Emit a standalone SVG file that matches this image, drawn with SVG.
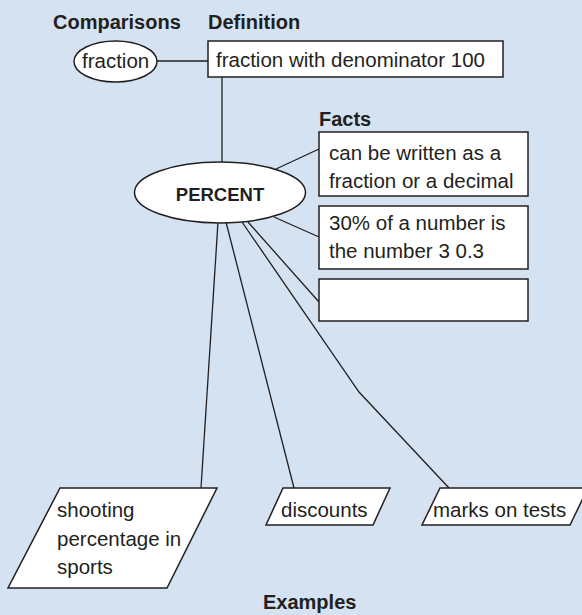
<svg xmlns="http://www.w3.org/2000/svg" width="582" height="615" viewBox="0 0 582 615">
  <style>
    .bg { fill: #d4e2f1; }
    .shape { fill: #ffffff; stroke: #231f20; stroke-width: 1.5; }
    .conn { fill: none; stroke: #231f20; stroke-width: 1.3; }
    .t { font-family: "Liberation Sans", Arial, sans-serif; font-size: 20.5px; fill: #231f20; }
    .h { font-family: "Liberation Sans", Arial, sans-serif; font-size: 20px; font-weight: bold; fill: #231f20; }
    .c { font-family: "Liberation Sans", Arial, sans-serif; font-size: 18.5px; font-weight: bold; fill: #231f20; }
  </style>
  <rect class="bg" x="0" y="0" width="582" height="615"/>

  <g id="headings">
    <text class="h" x="53" y="29">Comparisons</text>
    <text class="h" x="208" y="29">Definition</text>
    <text class="h" x="319" y="126">Facts</text>
    <text class="h" x="263" y="609">Examples</text>
  </g>

  <g id="connectors">
    <line class="conn" x1="157" y1="61" x2="208" y2="61"/>
    <line class="conn" x1="222" y1="77" x2="222" y2="162"/>
    <line class="conn" x1="276" y1="169" x2="319" y2="149"/>
    <line class="conn" x1="274" y1="217" x2="319" y2="237"/>
    <line class="conn" x1="248" y1="222" x2="319" y2="302"/>
    <line class="conn" x1="218" y1="222" x2="201" y2="488"/>
    <line class="conn" x1="226" y1="222" x2="294" y2="488"/>
    <polyline class="conn" points="242,222 359,392 449,488"/>
  </g>

  <g id="node-fraction">
    <ellipse class="shape" cx="115.5" cy="61.5" rx="41.5" ry="20.5"/>
    <text class="t" x="82" y="68">fraction</text>
  </g>

  <g id="node-definition">
    <rect class="shape" x="208" y="41" width="295" height="36"/>
    <text class="t" x="216" y="67">fraction with denominator 100</text>
  </g>

  <g id="node-percent">
    <ellipse class="shape" cx="220" cy="192.5" rx="85.5" ry="30.5"/>
    <text class="c" x="220" y="201" text-anchor="middle">PERCENT</text>
  </g>

  <g id="node-fact1">
    <rect class="shape" x="319" y="132" width="209" height="64"/>
    <text class="t" x="329" y="160">can be written as a</text>
    <text class="t" x="329" y="188">fraction or a decimal</text>
  </g>

  <g id="node-fact2">
    <rect class="shape" x="319" y="206" width="209" height="63"/>
    <text class="t" x="329" y="230">30% of a number is</text>
    <text class="t" x="329" y="258">the number 3 0.3</text>
  </g>

  <g id="node-fact3">
    <rect class="shape" x="319" y="279" width="209" height="42"/>
  </g>

  <g id="node-shooting">
    <polygon class="shape" points="60,488 217,488 167,588 8,588"/>
    <text class="t" x="57" y="517">shooting</text>
    <text class="t" x="57" y="546">percentage in</text>
    <text class="t" x="57" y="574">sports</text>
  </g>

  <g id="node-discounts">
    <polygon class="shape" points="283,488 390,488 373,525 266,525"/>
    <text class="t" x="281" y="517">discounts</text>
  </g>

  <g id="node-marks">
    <polygon class="shape" points="440,488 588,488 570,525 422,525"/>
    <text class="t" x="433" y="517">marks on tests</text>
  </g>
</svg>
